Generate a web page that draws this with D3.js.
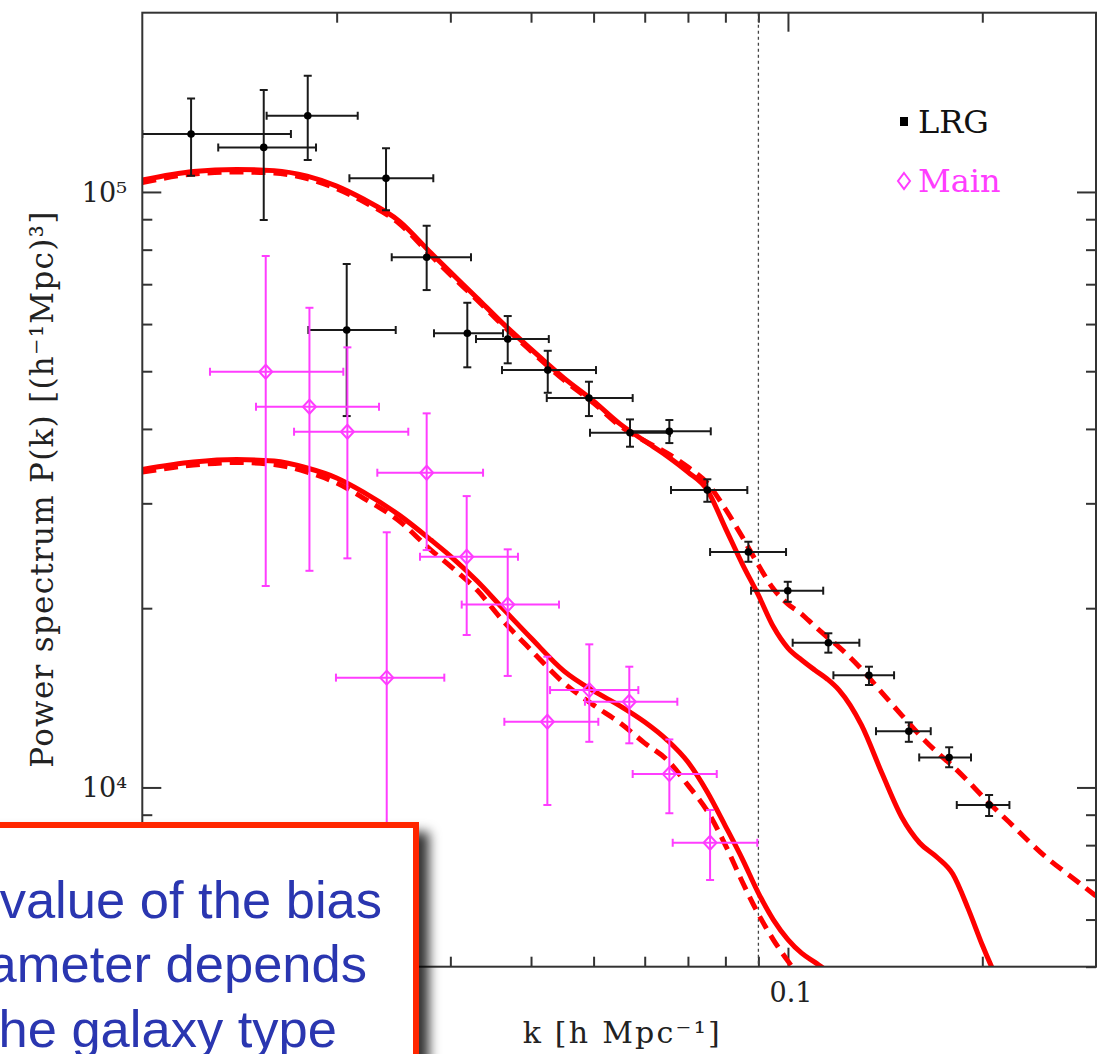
<!DOCTYPE html>
<html><head><meta charset="utf-8">
<script src="https://cdn.jsdelivr.net/npm/d3@7"></script>
<style>body{margin:0;background:#fff}svg{display:block}</style>
</head><body>
<svg id="c" width="1108" height="1054"></svg>
<script>
// ---------- data ----------
const lrgK   = [0.01190,0.01542,0.01804,0.02073,0.02385,0.02757,0.03187,0.03681,0.04246,0.04918,0.05693,0.06551,0.07502,0.08683,0.09993,0.1155,0.1335,0.1539,0.1777,0.2049];
const lrgP   = [125100,118800,134300,58640,105400,77680,57900,56620,50220,45070,39410,39630,31580,24850,21400,17500,15430,12430,11230,9341];
const lrgPlo = [106500,89700,113100,42040,93200,68430,50760,51550,46000,42040,37340,37870,30180,23930,20500,16840,14860,11930,10810,8954];
const lrgPhi = [143600,148300,156700,75680,118400,87760,65150,61890,54110,48010,41500,41400,32920,25860,22150,18150,15950,12860,11680,9710];
const lrgKlo = [0.0100,0.01311,0.01558,0.01808,0.02093,0.02434,0.02830,0.03287,0.03607,0.04231,0.04936,0.05693,0.06590,0.07575,0.08767,0.1017,0.1176,0.1369,0.1597,0.1826];
const lrgKhi = [0.01699,0.01858,0.02156,0.02469,0.02823,0.03229,0.03620,0.04262,0.05043,0.05748,0.06567,0.07594,0.08651,0.09932,0.1134,0.1290,0.1460,0.1664,0.1921,0.2203];

const mainK   = [0.01553,0.01815,0.02078,0.02391,0.02757,0.03180,0.03681,0.04240,0.04924,0.05679,0.06551,0.07575];
const mainP   = [49900,43580,39570,15290,33770,24400,20280,12890,14570,13930,10530,8073];
const mainPhi = [78070,63900,54830,26820,42480,30850,25110,16580,17390,15950,12040,9163];
const mainPlo = [21790,23110,24250,4500,25040,18030,15390,9341,11930,11860,9047,6990];
const mainKlo = [0.01273,0.01500,0.01718,0.01995,0.02312,0.02692,0.03124,0.03637,0.04281,0.04848,0.05748,0.06630];
const mainKhi = [0.02048,0.02326,0.02582,0.02936,0.03371,0.03818,0.04420,0.05085,0.05865,0.06740,0.07758,0.08965];

const curveK = [0.010,0.012,0.014,0.016,0.018,0.020,0.022,0.025,0.028,0.030,0.033,0.036,0.040,0.045,0.050,0.055,0.060,0.065,0.070,0.075,0.080,0.085,0.090,0.095,0.100,0.105,0.110,0.115,0.120,0.130,0.140,0.150,0.160,0.170,0.180,0.190,0.200,0.220,0.250,0.280,0.300];
const lrgSolid  = [104700,108200,109100,108600,106300,102300,97290,89350,78950,73360,66370,60450,54470,48680,44550,40750,38170,36010,33850,31580,27260,23720,21030,18590,17140,16370,15750,15210,14570,12720,10530,8919,8066,7640,7154,6272,5437,4311,null,null,null];
const lrgDashed = [103700,107200,108000,107600,105300,101300,96360,88510,78190,72650,65870,60000,54050,48300,44200,40440,38170,36430,34510,32440,29350,26330,23630,21540,20320,19550,18660,17890,17210,15800,14400,13230,12240,11470,10860,10250,9672,8747,7668,6965,6571];
const mainSolid  = [34190,35190,35530,35320,34390,33090,31330,28660,26030,24460,22210,20090,17820,15680,14520,13700,12880,12010,11030,9824,8613,7580,6648,5988,5553,5269,5089,4917,null,null,null,null,null,null,null,null,null,null,null,null,null];
const mainDashed = [33850,34780,35130,34850,33850,32450,30620,28010,25040,23530,21450,19180,17010,14970,13750,12820,11870,11120,10090,9129,8004,6938,6129,5542,5109,4767,null,null,null,null,null,null,null,null,null,null,null,null,null,null,null];

const xMinorTicks = [0.02,0.03,0.04,0.05,0.06,0.07,0.08,0.09,0.2];
const xMajorTicks = [0.1];
const xTickLabels = ["0.1"];
const xTickLabelValues = [0.1];
const yMajorTicks = [1e4,1e5];
const yTickLabels = ["10⁴","10⁵"];
const yMinorTicks = [5000,6000,7000,8000,9000,20000,30000,40000,50000,60000,70000,80000,90000];
const refLineK = 0.09;
const legendNames = ["LRG","Main"];
const noteLines = ["The value of the bias","parameter depends","on the galaxy type"];

// ---------- setup ----------
const svg = d3.select("#c");
const L = 142.3, R = 1096, T = 12.7, B = 966.7;
const x = d3.scaleLog().domain([0.01,0.3]).range([L,R]);
const y = d3.scaleLog().domain([5000,2e5]).range([B,T]);
const serif = "'DejaVu Serif', serif";
const magenta = "#ff3dff";

const defs = svg.append("defs");
defs.append("clipPath").attr("id","plotclip").append("rect")
  .attr("x",L).attr("y",T).attr("width",R-L).attr("height",B-T);
const f = defs.append("filter").attr("id","shadow").attr("x","-20%").attr("y","-20%").attr("width","150%").attr("height","150%");
f.append("feDropShadow").attr("dx",10).attr("dy",10).attr("stdDeviation",6)
  .attr("flood-color","#000").attr("flood-opacity",0.8);

// ---------- axes (ticks) ----------
function styleAxis(g){ g.select(".domain").remove(); g.selectAll("line").attr("stroke","#333").attr("stroke-width",2); g.selectAll("text").remove(); }
svg.append("g").attr("transform",`translate(0,${B})`).call(d3.axisBottom(x).tickValues(xMinorTicks).tickSize(-10).tickSizeOuter(0)).call(styleAxis);
svg.append("g").attr("transform",`translate(0,${B})`).call(d3.axisBottom(x).tickValues(xMajorTicks).tickSize(-19).tickSizeOuter(0)).call(styleAxis);
svg.append("g").attr("transform",`translate(0,${T})`).call(d3.axisTop(x).tickValues(xMinorTicks).tickSize(-10).tickSizeOuter(0)).call(styleAxis);
svg.append("g").attr("transform",`translate(0,${T})`).call(d3.axisTop(x).tickValues(xMajorTicks).tickSize(-19).tickSizeOuter(0)).call(styleAxis);
svg.append("g").attr("transform",`translate(${L},0)`).call(d3.axisLeft(y).tickValues(yMinorTicks).tickSize(-10).tickSizeOuter(0)).call(styleAxis);
svg.append("g").attr("transform",`translate(${L},0)`).call(d3.axisLeft(y).tickValues(yMajorTicks).tickSize(-19).tickSizeOuter(0)).call(styleAxis);
svg.append("g").attr("transform",`translate(${R},0)`).call(d3.axisRight(y).tickValues(yMinorTicks).tickSize(-10).tickSizeOuter(0)).call(styleAxis);
svg.append("g").attr("transform",`translate(${R},0)`).call(d3.axisRight(y).tickValues(yMajorTicks).tickSize(-19).tickSizeOuter(0)).call(styleAxis);

// reference dotted line
svg.append("line").attr("x1",x(refLineK)).attr("x2",x(refLineK)).attr("y1",T).attr("y2",B)
  .attr("stroke","#444").attr("stroke-width",1.3).attr("stroke-dasharray","3,3");

// ---------- curves ----------
const plot = svg.append("g").attr("clip-path","url(#plotclip)");
function curve(vals, dashed){
  const line = d3.line().defined(d=>d[1]!=null).x(d=>x(d[0])).y(d=>y(d[1])).curve(d3.curveMonotoneX);
  plot.append("path").datum(curveK.map((k,i)=>[k,vals[i]]))
    .attr("d",line).attr("fill","none").attr("stroke","#ff0000").attr("stroke-width",5)
    .attr("stroke-dasharray",dashed?"14,8":null);
}
curve(lrgDashed,true); curve(lrgSolid,false);
curve(mainDashed,true); curve(mainSolid,false);

// ---------- error bars ----------
function errorbars(K,P,Klo,Khi,Plo,Phi,color,w){
  const g = plot.append("g").attr("stroke",color).attr("stroke-width",w).attr("fill","none");
  const idx = d3.range(K.length);
  const c = 4;
  g.selectAll(".v").data(idx).join("line").attr("x1",i=>x(K[i])).attr("x2",i=>x(K[i])).attr("y1",i=>y(Plo[i])).attr("y2",i=>y(Phi[i]));
  g.selectAll(".h").data(idx).join("line").attr("x1",i=>x(Klo[i])).attr("x2",i=>x(Khi[i])).attr("y1",i=>y(P[i])).attr("y2",i=>y(P[i]));
  g.selectAll(".c1").data(idx).join("line").attr("x1",i=>x(K[i])-c).attr("x2",i=>x(K[i])+c).attr("y1",i=>y(Plo[i])).attr("y2",i=>y(Plo[i]));
  g.selectAll(".c2").data(idx).join("line").attr("x1",i=>x(K[i])-c).attr("x2",i=>x(K[i])+c).attr("y1",i=>y(Phi[i])).attr("y2",i=>y(Phi[i]));
  g.selectAll(".c3").data(idx).join("line").attr("x1",i=>x(Klo[i])).attr("x2",i=>x(Klo[i])).attr("y1",i=>y(P[i])-c).attr("y2",i=>y(P[i])+c);
  g.selectAll(".c4").data(idx).join("line").attr("x1",i=>x(Khi[i])).attr("x2",i=>x(Khi[i])).attr("y1",i=>y(P[i])-c).attr("y2",i=>y(P[i])+c);
  return g;
}
errorbars(lrgK,lrgP,lrgKlo,lrgKhi,lrgPlo,lrgPhi,"#1a1a1a",2);
plot.append("g").selectAll("circle").data(d3.range(lrgK.length)).join("circle")
  .attr("cx",i=>x(lrgK[i])).attr("cy",i=>y(lrgP[i])).attr("r",3.8).attr("fill","#000");
errorbars(mainK,mainP,mainKlo,mainKhi,mainPlo,mainPhi,magenta,2);
function diamond(cx,cy,hw,hh){ return `M${cx},${cy-hh}L${cx+hw},${cy}L${cx},${cy+hh}L${cx-hw},${cy}Z`; }
plot.append("g").selectAll("path").data(d3.range(mainK.length)).join("path")
  .attr("d",i=>diamond(x(mainK[i]),y(mainP[i]),6.5,7)).attr("fill","none").attr("stroke",magenta).attr("stroke-width",2);

// frame
svg.append("rect").attr("x",L).attr("y",T).attr("width",R-L).attr("height",B-T)
  .attr("fill","none").attr("stroke","#333").attr("stroke-width",2);

// ---------- labels ----------
svg.selectAll(".ylab").data(yMajorTicks).join("text")
  .attr("x",127).attr("y",d=>y(d)+10).attr("text-anchor","end")
  .attr("font-family",serif).attr("font-size",27).attr("fill","#222")
  .text((d,i)=>yTickLabels[i]);
svg.selectAll(".xlab").data(xTickLabelValues).join("text")
  .attr("x",d=>x(d)+3).attr("y",1002).attr("text-anchor","middle")
  .attr("font-family",serif).attr("font-size",27).attr("fill","#222")
  .text((d,i)=>xTickLabels[i]);
svg.append("text").attr("x",(L+R)/2+2).attr("y",1043).attr("text-anchor","middle")
  .attr("font-family",serif).attr("font-size",30).attr("fill","#222")
  .attr("textLength",197).attr("lengthAdjust","spacing")
  .text("k [h Mpc⁻¹]");
svg.append("text").attr("transform",`translate(53,${(T+B)/2}) rotate(-90)`).attr("text-anchor","middle")
  .attr("font-family",serif).attr("font-size",31).attr("fill","#222")
  .attr("textLength",556).attr("lengthAdjust","spacing")
  .text("Power spectrum P(k) [(h⁻¹Mpc)³]");

// legend
svg.append("rect").attr("x",900).attr("y",117).attr("width",8).attr("height",9).attr("fill","#000");
svg.append("text").attr("x",918).attr("y",133).attr("font-family",serif).attr("font-size",32).attr("fill","#111").text(legendNames[0]);
svg.append("path").attr("d",diamond(904,181,6,8)).attr("fill","none").attr("stroke",magenta).attr("stroke-width",2);
svg.append("text").attr("x",918).attr("y",192).attr("font-family",serif).attr("font-size",32).attr("fill",magenta).text(legendNames[1]);

// ---------- overlay note box ----------
const box = svg.append("g");
box.append("rect").attr("x",-30).attr("y",825).attr("width",446).attr("height",300)
  .attr("fill","#fff").attr("stroke","#ff2600").attr("stroke-width",6).attr("filter","url(#shadow)");
const ends = [382,367,337], bases = [918,982,1047];
box.selectAll("text").data(noteLines).join("text")
  .attr("x",(d,i)=>ends[i]).attr("y",(d,i)=>bases[i]).attr("text-anchor","end")
  .attr("font-family","'Liberation Sans', Arial, sans-serif").attr("font-size",52.5).attr("fill","#2a36b0")
  .text(d=>d);
</script>
</body></html>
